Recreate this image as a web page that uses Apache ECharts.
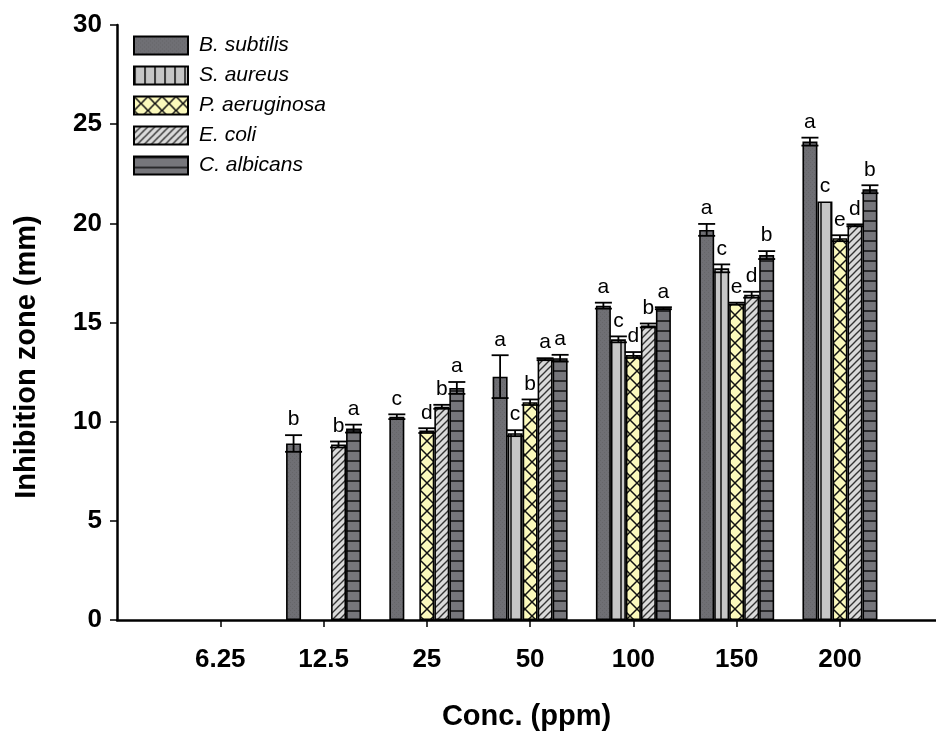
<!DOCTYPE html>
<html>
<head>
<meta charset="utf-8">
<script src="https://cdn.jsdelivr.net/npm/echarts@6/dist/echarts.min.js"></script>
<style>
  html, body { margin: 0; padding: 0; background: #fff; }
  #chart { width: 936px; height: 731px; }
</style>
</head>
<body>
<div id="chart"></div>
<script>
// categories (ppm)
const concs = ['6.25', '12.5', '25', '50', '100', '150', '200'];
const seriesNames = ['B. subtilis', 'S. aureus', 'P. aeruginosa', 'E. coli', 'C. albicans'];

// inhibition zone (mm), null = no zone
const bSubtilis   = [null, 8.9,  10.25, 12.27, 15.85, 19.67, 24.12];
const sAureus     = [null, null, null,  9.42,  14.15, 17.73, 21.1];
const pAeruginosa = [null, null, 9.55,  10.98, 13.36, 15.95, 19.25];
const eColi       = [null, 8.85, 10.75, 13.15, 14.85, 16.4,  19.9];
const cAlbicans   = [null, 9.65, 11.7,  13.2,  15.72, 18.4,  21.72];

// error (+/-)
const bSubtilisErr   = [0, 0.42, 0.12, 1.08, 0.15, 0.3,  0.2];
const sAureusErr     = [0, 0,    0,    0.15, 0.15, 0.2,  0];
const pAeruginosaErr = [0, 0,    0.12, 0.14, 0.15, 0.05, 0.15];
const eColiErr       = [0, 0.15, 0.1,  0.05, 0.1,  0.15, 0.05];
const cAlbicansErr   = [0, 0.2,  0.3,  0.17, 0.05, 0.2,  0.2];

// significance letters
const bSubtilisLbl   = ['', 'b', 'c', 'a', 'a', 'a', 'a'];
const sAureusLbl     = ['', '',  '',  'c', 'c', 'c', 'c'];
const pAeruginosaLbl = ['', '',  'd', 'b', 'd', 'e', 'e'];
const eColiLbl       = ['', 'b', 'b', 'a', 'b', 'd', 'd'];
const cAlbicansLbl   = ['', 'a', 'a', 'a', 'a', 'b', 'b'];

const values = [bSubtilis, sAureus, pAeruginosa, eColi, cAlbicans];
const errs = [bSubtilisErr, sAureusErr, pAeruginosaErr, eColiErr, cAlbicansErr];
const letters = [bSubtilisLbl, sAureusLbl, pAeruginosaLbl, eColiLbl, cAlbicansLbl];

const BAR_W = 15;
const slots = concs.map((c, k) => k + 1); // positions on the x axis

// fill patterns drawn on small canvases
function pattern(w, h, bg, draw) {
  const c = document.createElement('canvas');
  c.width = w; c.height = h;
  const ctx = c.getContext('2d');
  ctx.fillStyle = bg;
  ctx.fillRect(0, 0, w, h);
  ctx.strokeStyle = '#111';
  draw(ctx);
  return { image: c, repeat: 'repeat' };
}
const fills = [
  pattern(4, 4, '#6f6f74', ctx => {
    ctx.fillStyle = '#666669'; ctx.fillRect(0, 0, 1, 1); ctx.fillRect(2, 2, 1, 1);
  }),
  pattern(10, 10, '#c6c6c6', ctx => {
    ctx.lineWidth = 1.5; ctx.beginPath(); ctx.moveTo(1, 0); ctx.lineTo(1, 10); ctx.stroke();
  }),
  pattern(14, 14, '#fbf9bc', ctx => {
    ctx.lineWidth = 1.5; ctx.beginPath();
    ctx.moveTo(0, 0); ctx.lineTo(14, 14); ctx.moveTo(14, 0); ctx.lineTo(0, 14);
    ctx.stroke();
  }),
  pattern(7, 7, '#dadada', ctx => {
    ctx.lineWidth = 1.4; ctx.strokeStyle = '#333'; ctx.beginPath();
    ctx.moveTo(-1, 8); ctx.lineTo(8, -1); ctx.moveTo(-4, 4); ctx.lineTo(4, -4); ctx.moveTo(3, 11); ctx.lineTo(11, 3);
    ctx.stroke();
  }),
  pattern(10, 10, '#76767b', ctx => {
    ctx.lineWidth = 1.5; ctx.beginPath(); ctx.moveTo(0, 1); ctx.lineTo(10, 1); ctx.stroke();
  })
];

const barSeries = seriesNames.map((name, i) => ({
  name: name,
  type: 'bar',
  data: values[i].map((v, k) => [slots[k], v]).filter(d => d[1] != null),
  barWidth: BAR_W,
  barGap: '0%',
  itemStyle: { color: fills[i], borderColor: '#000', borderWidth: 1.6 }
}));

// error bars + letters
const errItems = [];
values.forEach((arr, s) => {
  arr.forEach((v, k) => {
    if (v != null) errItems.push({ value: [slots[k], v, errs[s][k], s], letter: letters[s][k] });
  });
});

const errSeries = {
  type: 'custom',
  name: 'err',
  z: 5,
  data: errItems.map(d => d.value),
  encode: { x: 0, y: 1 },
  renderItem: function (params, api) {
    const pos = api.value(0), v = api.value(1), e = api.value(2), s = api.value(3);
    const x = api.coord([pos, 0])[0] + (s - 2) * BAR_W;
    const yTop = api.coord([pos, v + e])[1];
    const yBot = api.coord([pos, v - e])[1];
    const half = BAR_W / 2 + 1;
    const st = { stroke: '#000', lineWidth: 1.8 };
    const children = [];
    if (e > 0) {
      children.push(
        { type: 'line', shape: { x1: x, y1: yTop, x2: x, y2: yBot }, style: st },
        { type: 'line', shape: { x1: x - half, y1: yTop, x2: x + half, y2: yTop }, style: st },
        { type: 'line', shape: { x1: x - half, y1: yBot, x2: x + half, y2: yBot }, style: st }
      );
    }
    children.push({
      type: 'text',
      style: {
        text: errItems[params.dataIndex].letter,
        x: x, y: yTop - 5,
        align: 'center', verticalAlign: 'bottom',
        fontSize: 21, fontFamily: 'Arial, Liberation Sans', fill: '#000'
      }
    });
    return { type: 'group', children: children };
  }
};

const chart = echarts.init(document.getElementById('chart'));
chart.setOption({
  animation: false,
  backgroundColor: '#fff',
  grid: { left: 117, top: 25, right: 0, height: 595, containLabel: false, outerBoundsMode: 'none' },
  legend: {
    data: seriesNames,
    orient: 'vertical',
    left: 133, top: 35,
    padding: 0,
    itemWidth: 54, itemHeight: 18, itemGap: 9,
    icon: 'rect',
    textStyle: { fontSize: 21, fontStyle: 'italic', fontFamily: 'Arial, Liberation Sans', color: '#000', padding: [0, 0, 0, 6] }
  },
  xAxis: {
    type: 'value',
    min: 0, max: 7.93, interval: 1,
    name: 'Conc. (ppm)',
    nameLocation: 'middle',
    nameGap: 82,
    nameTextStyle: { fontSize: 29, fontWeight: 'bold', fontFamily: 'Arial, Liberation Sans', color: '#000' },
    axisLine: { lineStyle: { color: '#000', width: 2.5 } },
    axisTick: { show: true, length: 7, customValues: slots, lineStyle: { color: '#000', width: 1.5 } },
    axisLabel: {
      customValues: slots,
      formatter: v => concs[Math.round(v) - 1] || '',
      margin: 27, fontSize: 26, fontWeight: 'bold', fontFamily: 'Arial, Liberation Sans', color: '#000'
    },
    splitLine: { show: false }
  },
  yAxis: {
    type: 'value',
    min: 0, max: 30, interval: 5,
    axisLine: { show: true, lineStyle: { color: '#000', width: 2.5 } },
    axisTick: { show: true, length: 7, lineStyle: { color: '#000', width: 1.5 } },
    axisLabel: { margin: 15, fontSize: 26, fontWeight: 'bold', fontFamily: 'Arial, Liberation Sans', color: '#000' },
    splitLine: { show: false }
  },
  graphic: [{
    type: 'text',
    x: 27, y: 357,
    rotation: Math.PI / 2,
    style: {
      text: 'Inhibition zone (mm)',
      align: 'center', verticalAlign: 'middle',
      fontSize: 29, fontWeight: 'bold', fontFamily: 'Arial, Liberation Sans', fill: '#000'
    }
  }],
  series: barSeries.concat([errSeries])
});
</script>
</body>
</html>
